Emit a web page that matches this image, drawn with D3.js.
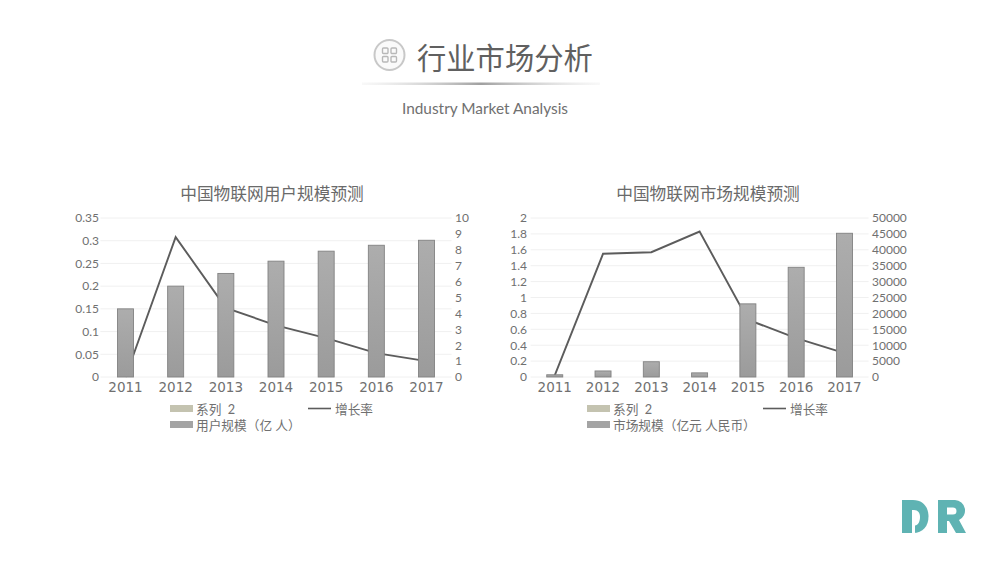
<!DOCTYPE html>
<html>
<head>
<meta charset="utf-8">
<script src="https://cdn.jsdelivr.net/npm/d3@7/dist/d3.min.js"></script>
<style>
html,body{margin:0;padding:0;background:#fff;}
svg{display:block;}
text{font-family:Lato,"Noto Sans CJK SC",sans-serif;}
.cjk{font-family:"Noto Sans CJK SC",sans-serif;}
.domain{display:none;}
</style>
</head>
<body>
<div id="chart"></div>
<script>
var years = ["2011","2012","2013","2014","2015","2016","2017"];

// left chart
var userScale = [0.15,0.2,0.228,0.255,0.277,0.29,0.301];
var userGrowth = [0.0,8.8,4.35,3.25,2.45,1.5,1.0];
var userTicksLeft = [0,0.05,0.1,0.15,0.2,0.25,0.3,0.35];
var userTicksRight = [0,1,2,3,4,5,6,7,8,9,10];

// right chart
var marketScale = [700,1900,4800,1300,23000,34500,45200];
var marketGrowth = [0.02,1.55,1.57,1.83,0.72,0.49,0.3];
var marketTicksLeft = [0,0.2,0.4,0.6,0.8,1,1.2,1.4,1.6,1.8,2];
var marketTicksRight = [0,5000,10000,15000,20000,25000,30000,35000,40000,45000,50000];

var svg = d3.select("#chart").append("svg")
    .attr("width",1000)
    .attr("height",563);

var defs = svg.append("defs");

var barGrad = defs.append("linearGradient")
    .attr("id","barGrad")
    .attr("x1",0).attr("y1",0).attr("x2",0).attr("y2",1);
barGrad.append("stop").attr("offset","0%").attr("stop-color","#adadad");
barGrad.append("stop").attr("offset","100%").attr("stop-color","#9b9b9b");

var ruleGrad = defs.append("linearGradient").attr("id","ruleGrad");
ruleGrad.append("stop").attr("offset","0%").attr("stop-color","#ddd").attr("stop-opacity",0.2);
ruleGrad.append("stop").attr("offset","50%").attr("stop-color","#a0a0a0");
ruleGrad.append("stop").attr("offset","100%").attr("stop-color","#ddd").attr("stop-opacity",0.2);

/*
 * Page header
 */
function drawHeader(){
    var icon = svg.append("g").attr("transform","translate(389.5,55)");
    icon.append("circle")
        .attr("r",15)
        .attr("fill","#fafafa")
        .attr("stroke","#c8c8c8")
        .attr("stroke-width",2);
    [[-7,-7],[1.5,-7],[-7,1.5],[1.5,1.5]].forEach(function(p){
        icon.append("rect")
            .attr("x",p[0]).attr("y",p[1])
            .attr("width",5.5).attr("height",5.5)
            .attr("rx",1)
            .attr("fill","none")
            .attr("stroke","#b8b8b8")
            .attr("stroke-width",1.4);
    });

    svg.append("text")
        .attr("class","cjk")
        .attr("x",417).attr("y",69)
        .attr("font-size",29.3)
        .attr("fill","#606060")
        .text("行业市场分析");

    svg.append("rect")
        .attr("x",362).attr("y",82.5)
        .attr("width",238).attr("height",2.5)
        .attr("fill","url(#ruleGrad)");

    svg.append("text")
        .attr("x",485).attr("y",114)
        .attr("text-anchor","middle")
        .attr("font-size",15.4)
        .attr("fill","#707070")
        .text("Industry Market Analysis");
}

/*
 * One combo chart: line sits behind the bars
 */
function drawCombo(opt){
    var top = 218, bottom = 377;

    var x = d3.scaleBand()
        .domain(years)
        .range([opt.x0,opt.x1]);

    var yLeft = d3.scaleLinear()
        .domain([opt.ticksLeft[0],opt.ticksLeft[opt.ticksLeft.length-1]])
        .range([bottom,top]);
    var yRight = d3.scaleLinear()
        .domain([opt.ticksRight[0],opt.ticksRight[opt.ticksRight.length-1]])
        .range([bottom,top]);

    var yBar = opt.barOnLeft ? yLeft : yRight;
    var yLine = opt.barOnLeft ? yRight : yLeft;

    var g = svg.append("g");

    // Grid
    g.selectAll(".grid")
        .data(opt.ticksLeft)
        .enter()
        .append("line")
        .attr("x1",opt.x0).attr("x2",opt.x1)
        .attr("y1",function(d){ return yLeft(d); })
        .attr("y2",function(d){ return yLeft(d); })
        .attr("stroke","#f0f0f0")
        .attr("stroke-width",1);

    // Line
    var line = d3.line()
        .x(function(d,i){ return x(years[i])+x.bandwidth()/2; })
        .y(function(d){ return yLine(d); });
    g.append("path")
        .datum(opt.line)
        .attr("d",line)
        .attr("fill","none")
        .attr("stroke","#5c5c5c")
        .attr("stroke-width",1.9);

    // Bars
    g.selectAll(".bar")
        .data(opt.bars)
        .enter()
        .append("rect")
        .attr("x",function(d,i){ return x(years[i])+x.bandwidth()/2-8; })
        .attr("y",function(d){ return yBar(d); })
        .attr("width",16)
        .attr("height",function(d){ return bottom-yBar(d); })
        .attr("fill","url(#barGrad)")
        .attr("stroke","#828282")
        .attr("stroke-width",0.9);

    // Axes
    var axisL = d3.axisLeft(yLeft).tickValues(opt.ticksLeft).tickSize(0).tickPadding(0).tickFormat(function(d){ return d; });
    var axisR = d3.axisRight(yRight).tickValues(opt.ticksRight).tickSize(0).tickPadding(0).tickFormat(function(d){ return d; });
    var axisB = d3.axisBottom(x).tickSize(0).tickPadding(0);

    var gl = g.append("g").attr("transform","translate("+opt.leftLabelX+",0)").call(axisL);
    var gr = g.append("g").attr("transform","translate("+opt.rightLabelX+",0)").call(axisR);
    var gb = g.append("g").attr("transform","translate(0,"+(bottom+5)+")").call(axisB);

    gl.selectAll("text").attr("font-size",12).attr("fill","#707070").style("font-family","Lato");
    gr.selectAll("text").attr("font-size",12).attr("fill","#707070").style("font-family","Lato");
    gb.selectAll("text").attr("font-size",13.5).attr("fill","#707070").style("font-family","'DejaVu Sans'");

    // Title
    g.append("text")
        .attr("class","cjk")
        .attr("x",opt.titleX).attr("y",200)
        .attr("text-anchor","middle")
        .attr("font-size",16.7)
        .attr("fill","#6a6a6a")
        .text(opt.title);

    // Legend
    var lg = g.append("g");
    lg.append("rect")
        .attr("x",opt.legX).attr("y",405)
        .attr("width",23).attr("height",7)
        .attr("fill","#c4c3b0");
    lg.append("text")
        .attr("x",opt.legX+26).attr("y",413.5)
        .attr("font-size",12.7).attr("fill","#707070")
        .text("系列\u00a0\u00a02");
    lg.append("line")
        .attr("x1",opt.legLineX).attr("x2",opt.legLineX+23)
        .attr("y1",408.5).attr("y2",408.5)
        .attr("stroke","#5c5c5c").attr("stroke-width",1.6);
    lg.append("text")
        .attr("x",opt.legLineX+27).attr("y",413.5)
        .attr("font-size",12.7).attr("fill","#707070")
        .text("增长率");
    lg.append("rect")
        .attr("x",opt.legX).attr("y",421)
        .attr("width",23).attr("height",7)
        .attr("fill","#a4a4a4");
    lg.append("text")
        .attr("x",opt.legX+26).attr("y",429.5)
        .attr("font-size",12.7).attr("fill","#707070")
        .text(opt.barName);
}

/*
 * DR logo
 */
function drawLogo(){
    var logo = svg.append("g").attr("fill","#5fb3b3");
    logo.append("path")
        .attr("d","M902,500 L913,500 C923,500 928.5,507 928.5,516.5 C928.5,526 923,533 913,533 L902,533 Z");
    logo.append("path")
        .attr("fill","#fff")
        .attr("d","M912,510 L914,510 C918,510 920,513 920,517 C920,522 918,525 915,525.5 L915,533 L912,533 Z");
    logo.append("path")
        .attr("fill-rule","evenodd")
        .attr("d","M938,500 L955,500 A10.5,10.5 0 0 1 959,520 L966,533 L956,533 L949,521 L947,521 L947,533 L938,533 Z M947,507.5 L947,514.5 L953,514.5 A3.5,3.5 0 0 0 953,507.5 Z");
}

drawHeader();

drawCombo({
    title:"中国物联网用户规模预测",
    titleX:272,
    x0:100.4, x1:451.6,
    leftLabelX:99, rightLabelX:455,
    bars:userScale, line:userGrowth,
    ticksLeft:userTicksLeft, ticksRight:userTicksRight,
    barOnLeft:true,
    barName:"用户规模（亿 人）",
    legX:170, legLineX:308
});

drawCombo({
    title:"中国物联网市场规模预测",
    titleX:708,
    x0:530.6, x1:868.6,
    leftLabelX:527, rightLabelX:872,
    bars:marketScale, line:marketGrowth,
    ticksLeft:marketTicksLeft, ticksRight:marketTicksRight,
    barOnLeft:false,
    barName:"市场规模（亿元 人民币）",
    legX:587, legLineX:763
});

drawLogo();
</script>
</body>
</html>
